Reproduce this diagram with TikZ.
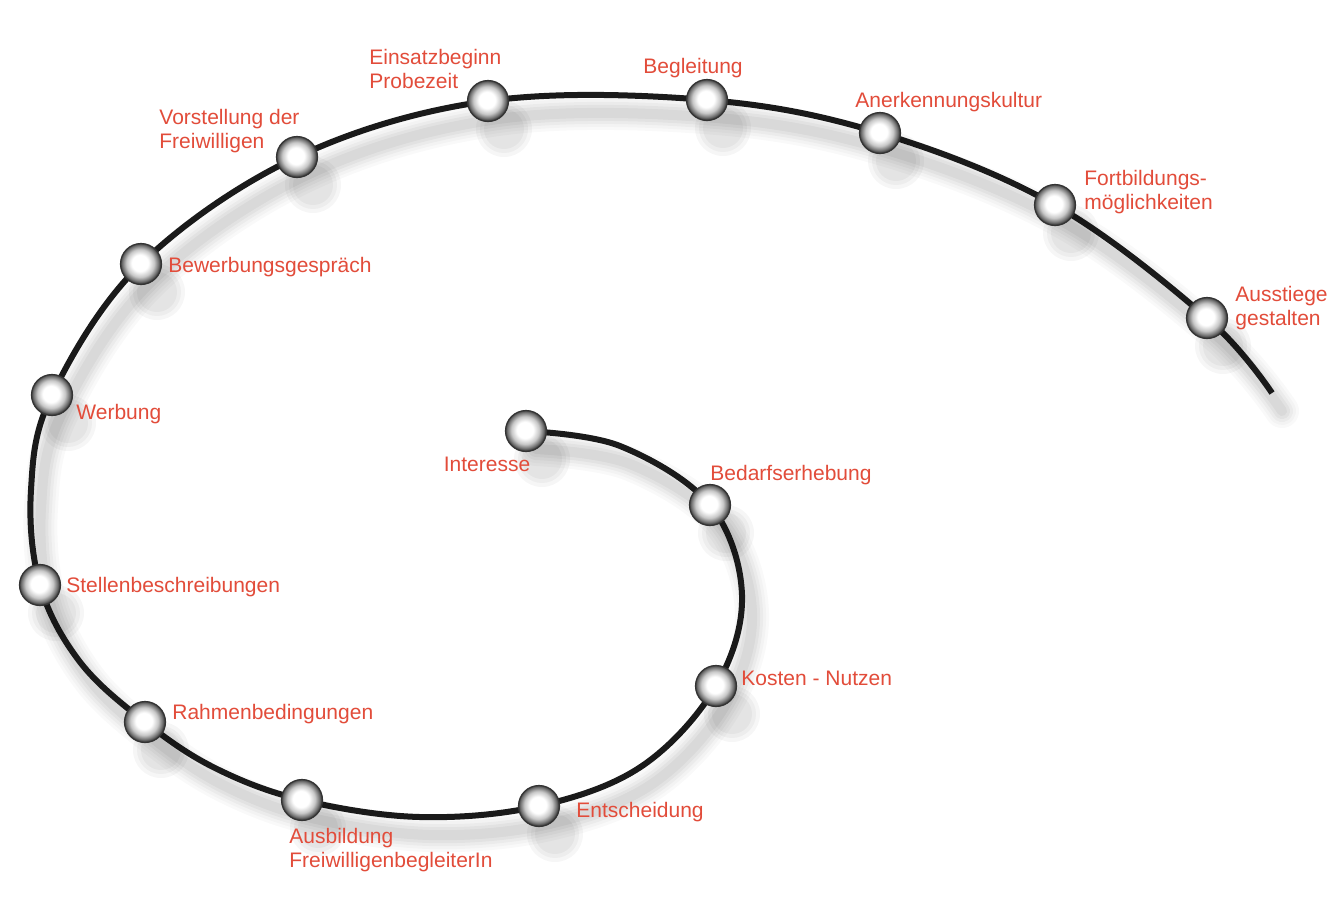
\documentclass[tikz,border=0pt]{standalone}
\usepackage{fontspec}
\setmainfont{Liberation Sans}
\definecolor{lbl}{RGB}{226,76,58}
\definecolor{curve}{RGB}{26,26,26}
\pgfdeclareradialshading{orb}{\pgfpoint{-1.5bp}{1.5bp}}{color(0bp)=(white); color(10bp)=(white); color(17bp)=(black!22); color(22bp)=(black!55); color(25bp)=(black!80); color(50bp)=(black!80)}
\begin{document}
\begin{tikzpicture}[x=0.5pt,y=-0.5pt,
  ball/.style={circle, minimum size=20.5pt, inner sep=0pt, shading=orb, draw=black!80, line width=0.6pt},
  ballshadow/.style={circle, inner sep=0pt, fill=black, opacity=0.035},
  lab/.style={text=lbl, font=\fontsize{10.5}{11.6}\selectfont, inner sep=0pt, align=left}]
\fill[white] (0,0) rectangle (1343,917);
\useasboundingbox (0,0) rectangle (1343,917);
% path points
\coordinate (p1) at (526,431);
\coordinate (a1) at (620,446);
\coordinate (p2) at (710,505);
\coordinate (a2) at (742,595);
\coordinate (p3) at (716,686);
\coordinate (a3) at (642,766);
\coordinate (p4) at (539,806);
\coordinate (a4) at (420,817);
\coordinate (p5) at (302,800);
\coordinate (a5) at (215,768);
\coordinate (p6) at (145,722);
\coordinate (a6) at (80,662);
\coordinate (p7) at (40,585);
\coordinate (a7) at (31,490);
\coordinate (p8) at (52,395);
\coordinate (p9) at (141,264);
\coordinate (p10) at (297,157);
\coordinate (p11) at (488,101);
\coordinate (p12) at (707,100);
\coordinate (p13) at (880,133);
\coordinate (p14) at (1055,205);
\coordinate (p15) at (1207,318);
\coordinate (pend) at (1272,393);
% soft shadow of the curve, then the curve
\foreach \w/\o/\sx/\sy/\c/\cap in {17/0.022/5/-9/black/round, 14/0.025/5/-9/black/round, 11/0.03/5/-9/black/round, 8/0.035/5/-9/black/round, 5/0.04/5/-9/black/round, 3/1/0/0/curve/butt}{
  \draw[line width=\w pt, draw=\c, opacity=\o, line cap=\cap, transform canvas={shift={(\sx pt,\sy pt)}}]
    plot[smooth, tension=0.6] coordinates {(p1) (a1) (p2) (a2) (p3) (a3) (p4) (a4) (p5) (a5) (p6) (a6) (p7) (a7) (p8) (p9) (p10) (p11) (p12) (p13) (p14) (p15) (pend)};
}
% soft shadows of the balls
\foreach \i in {1,...,15}{
  \foreach \m in {28,24,20}{
    \node[ballshadow, minimum size=\m pt, transform canvas={shift={(4pt,-7pt)}}] at (p\i) {};
  }
}
% balls
\foreach \i in {1,...,15}{
  \node[ball] (n\i) at (p\i) {};
}
% labels
\node[lab, anchor=center] (l1) at (487,464) {Interesse};
\node[lab, anchor=west] (l2) at (710,475) {Bedarfserhebung};
\node[lab, anchor=west] (l3) at (741,678) {Kosten - Nutzen};
\node[lab, anchor=west] (l4) at (576,812) {Entscheidung};
\node[lab, anchor=west] (l5) at (289,850) {Ausbildung\\FreiwilligenbegleiterIn};
\node[lab, anchor=west] (l6) at (172,714) {Rahmenbedingungen};
\node[lab, anchor=west] (l7) at (66,587) {Stellenbeschreibungen};
\node[lab, anchor=west] (l8) at (76,414) {Werbung};
\node[lab, anchor=west] (l9) at (168,267) {Bewerbungsgespräch};
\node[lab, anchor=west] (l10) at (159,131) {Vorstellung der\\Freiwilligen};
\node[lab, anchor=west] (l11) at (369,69) {Einsatzbeginn\\Probezeit};
\node[lab, anchor=west] (l12) at (643,68) {Begleitung};
\node[lab, anchor=west] (l13) at (855,102) {Anerkennungskultur};
\node[lab, anchor=west] (l14) at (1084,192) {Fortbildungs-\\möglichkeiten};
\node[lab, anchor=west] (l15) at (1235,308) {Ausstiege\\gestalten};
\end{tikzpicture}
\end{document}
